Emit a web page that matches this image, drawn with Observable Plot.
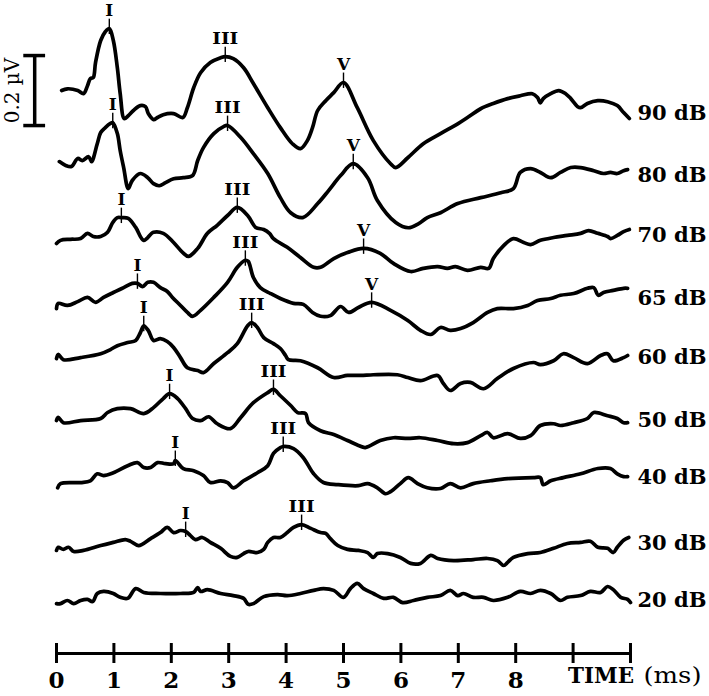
<!DOCTYPE html>
<html>
<head>
<meta charset="utf-8">
<script src="https://cdn.jsdelivr.net/npm/d3@7"></script>
<script src="https://cdn.jsdelivr.net/npm/@observablehq/plot@0.6"></script>
<style>
  html, body { margin: 0; padding: 0; background: #fff; }
  #chart { width: 709px; height: 696px; }
</style>
</head>
<body>
<div id="chart"></div>
<script>
// Stimulus levels (top to bottom) and vertical placement of each trace (µV)
const levels = ["90 dB", "80 dB", "70 dB", "65 dB", "60 dB", "50 dB", "40 dB", "30 dB", "20 dB"];
const offsets = [1.391, 1.214, 1.043, 0.863, 0.694, 0.514, 0.351, 0.163, 0];

// Waveforms: [time (ms), amplitude (µV)]
const trace90 = [[0.09,0.066],[0.19,0.071],[0.37,0.066],[0.47,0.057],[0.54,0.080],[0.59,0.100],[0.64,0.103],[0.68,0.146],[0.77,0.209],[0.85,0.234],[0.92,0.243],[0.99,0.209],[1.06,0.131],[1.11,0.057],[1.18,-0.014],[1.25,-0.006],[1.34,0.009],[1.46,0.023],[1.55,0.020],[1.60,0],[1.69,-0.017],[1.76,-0.011],[1.86,-0.003],[2.04,0],[2.20,-0.011],[2.28,0.017],[2.39,0.074],[2.51,0.117],[2.68,0.146],[2.86,0.160],[2.94,0.163],[3.08,0.157],[3.26,0.131],[3.43,0.086],[3.68,0.017],[3.90,-0.040],[4.11,-0.086],[4.25,-0.100],[4.37,-0.077],[4.46,-0.040],[4.55,0.009],[4.69,0.037],[4.83,0.060],[5.00,0.089],[5.24,0.017],[5.52,-0.077],[5.82,-0.143],[5.91,-0.154],[6.12,-0.126],[6.39,-0.086],[6.69,-0.057],[6.99,-0.029],[7.16,-0.011],[7.39,0.014],[7.61,0.029],[7.86,0.043],[8.08,0.051],[8.29,0.057],[8.38,0.046],[8.43,0.031],[8.48,0.043],[8.61,0.057],[8.75,0.066],[8.87,0.057],[8.96,0.043],[9.08,0.020],[9.13,0.017],[9.25,0.029],[9.43,0.037],[9.60,0.034],[9.77,0.023],[9.88,0.003],[9.98,-0.014]];
const trace80 = [[0.05,0.040],[0.16,0.029],[0.26,0.026],[0.37,0.049],[0.45,0.043],[0.56,0.054],[0.61,0.040],[0.71,0.091],[0.77,0.123],[0.85,0.137],[0.94,0.149],[0.98,0.151],[1.06,0.120],[1.11,0.071],[1.17,0.023],[1.25,-0.037],[1.32,-0.014],[1.46,0.006],[1.59,-0.006],[1.69,-0.023],[1.79,-0.029],[1.90,-0.020],[2.04,-0.009],[2.21,-0.006],[2.37,0],[2.46,0.043],[2.56,0.080],[2.74,0.120],[2.91,0.140],[2.98,0.143],[3.21,0.109],[3.43,0.063],[3.68,0.006],[3.90,-0.063],[4.08,-0.106],[4.29,-0.120],[4.55,-0.080],[4.74,-0.043],[4.95,0],[5.17,0.034],[5.42,-0.006],[5.59,-0.071],[5.91,-0.134],[6.13,-0.149],[6.31,-0.137],[6.46,-0.120],[6.69,-0.106],[6.99,-0.080],[7.39,-0.063],[7.74,-0.049],[7.96,-0.037],[8.08,0.009],[8.26,0.020],[8.43,0.009],[8.61,-0.006],[8.78,0.009],[8.96,0.023],[9.13,0.023],[9.36,0.014],[9.53,0.006],[9.65,0.009],[9.77,0.006],[9.88,0.014],[9.95,0.017]];
const trace70 = [[0,-0.023],[0.07,-0.014],[0.24,-0.011],[0.42,-0.009],[0.54,0.006],[0.64,-0.003],[0.77,-0.003],[0.89,0.009],[0.98,0.037],[1.06,0.051],[1.13,0.051],[1.25,0.049],[1.38,0.023],[1.52,-0.014],[1.69,0.009],[1.86,0.006],[2.04,-0.020],[2.20,-0.049],[2.30,-0.060],[2.46,-0.037],[2.63,0.006],[2.80,0.029],[2.98,0.057],[3.15,0.080],[3.33,0.057],[3.47,0.023],[3.61,0.017],[3.71,0.006],[3.78,-0.009],[4.02,-0.034],[4.25,-0.063],[4.48,-0.091],[4.60,-0.091],[4.83,-0.066],[5.07,-0.049],[5.35,-0.037],[5.64,-0.051],[5.87,-0.080],[6.17,-0.103],[6.39,-0.094],[6.64,-0.089],[6.81,-0.094],[6.95,-0.089],[7.16,-0.100],[7.39,-0.091],[7.53,-0.094],[7.61,-0.066],[7.79,-0.029],[7.96,-0.009],[8.14,-0.020],[8.26,-0.026],[8.43,-0.014],[8.66,-0.006],[8.90,0],[9.13,0.006],[9.27,0.014],[9.43,0.006],[9.60,-0.003],[9.65,-0.009],[9.77,0],[9.88,0.011],[9.98,0.017]];
const trace65 = [[0,-0.029],[0.03,-0.014],[0.19,-0.020],[0.37,-0.009],[0.54,0.003],[0.68,-0.011],[0.82,0.003],[0.99,0.017],[1.17,0.031],[1.32,0.043],[1.41,0.043],[1.50,0.034],[1.59,0.046],[1.69,0.046],[1.81,0.031],[1.93,0.020],[2.02,0.003],[2.16,-0.020],[2.28,-0.040],[2.37,-0.051],[2.51,-0.034],[2.74,0.003],[2.98,0.046],[3.15,0.089],[3.29,0.109],[3.34,0.106],[3.43,0.060],[3.55,0.031],[3.73,0.014],[3.90,0],[4.13,-0.014],[4.30,-0.017],[4.46,-0.040],[4.60,-0.051],[4.77,-0.049],[4.95,-0.023],[5.09,-0.040],[5.26,-0.026],[5.49,-0.011],[5.82,-0.034],[6.12,-0.063],[6.34,-0.091],[6.52,-0.103],[6.69,-0.083],[6.86,-0.091],[7.04,-0.086],[7.26,-0.069],[7.51,-0.040],[7.68,-0.029],[7.96,-0.029],[8.21,-0.020],[8.38,-0.006],[8.61,0],[8.78,0.009],[9.01,0.014],[9.25,0.029],[9.36,0.031],[9.44,0.009],[9.53,0.017],[9.70,0.023],[9.88,0.029],[9.95,0.029]];
const trace60 = [[0,-0.003],[0.03,0.009],[0.12,-0.006],[0.42,0],[0.77,0.011],[0.94,0.023],[1.06,0.034],[1.24,0.043],[1.38,0.049],[1.46,0.071],[1.52,0.091],[1.60,0.077],[1.69,0.049],[1.81,0.054],[1.93,0.046],[2.04,0.029],[2.16,0],[2.28,-0.029],[2.46,-0.037],[2.56,-0.043],[2.74,-0.017],[2.98,0.014],[3.15,0.040],[3.33,0.091],[3.40,0.100],[3.50,0.086],[3.61,0.057],[3.78,0.040],[3.90,0.026],[3.99,0.006],[4.04,-0.006],[4.25,-0.009],[4.55,-0.029],[4.83,-0.057],[5.07,-0.051],[5.30,-0.051],[5.52,-0.049],[5.94,-0.049],[6.12,-0.057],[6.34,-0.066],[6.64,-0.051],[6.74,-0.074],[6.86,-0.094],[7.04,-0.074],[7.21,-0.071],[7.44,-0.089],[7.68,-0.060],[7.96,-0.031],[8.31,-0.014],[8.43,-0.020],[8.66,-0.009],[8.83,0.011],[9.01,0],[9.25,-0.017],[9.48,0.006],[9.60,0.011],[9.70,-0.009],[9.88,0],[9.95,0.006]];
const trace50 = [[0,0],[0.03,0.009],[0.12,-0.006],[0.42,0],[0.77,0.006],[0.89,0.023],[1.06,0.034],[1.29,0.034],[1.52,0.020],[1.69,0.037],[1.86,0.063],[1.97,0.077],[2.11,0.063],[2.25,0.034],[2.37,0.006],[2.51,0],[2.65,0.011],[2.80,-0.009],[3.03,-0.023],[3.21,0.009],[3.43,0.051],[3.68,0.080],[3.78,0.089],[3.90,0.071],[4.08,0.043],[4.20,0.023],[4.34,0.020],[4.39,-0.006],[4.60,-0.029],[4.83,-0.040],[5.07,-0.057],[5.26,-0.071],[5.38,-0.077],[5.64,-0.057],[5.87,-0.049],[6.12,-0.051],[6.34,-0.049],[6.64,-0.057],[6.92,-0.066],[7.16,-0.063],[7.39,-0.043],[7.51,-0.034],[7.61,-0.049],[7.86,-0.037],[8.08,-0.051],[8.26,-0.043],[8.43,-0.014],[8.66,-0.009],[8.78,-0.014],[9.01,-0.006],[9.25,0.006],[9.36,0.023],[9.60,0.014],[9.77,0.006],[9.88,-0.006],[9.95,-0.006]];
const trace40 = [[0.02,-0.029],[0.07,-0.017],[0.42,-0.014],[0.59,-0.009],[0.71,0.011],[0.82,0.006],[0.99,0.014],[1.24,0.034],[1.41,0.043],[1.52,0.029],[1.64,0.029],[1.76,0.043],[1.90,0.040],[2.04,0.040],[2.07,0.049],[2.21,0.026],[2.39,0.020],[2.56,0.006],[2.68,-0.014],[2.86,-0.009],[2.98,-0.014],[3.08,-0.029],[3.26,-0.009],[3.50,0.014],[3.68,0.034],[3.78,0.069],[3.90,0.086],[3.95,0.089],[4.13,0.083],[4.30,0.057],[4.48,0.011],[4.65,-0.014],[4.90,-0.020],[5.26,-0.023],[5.42,-0.017],[5.59,-0.029],[5.73,-0.046],[5.82,-0.040],[5.99,-0.017],[6.13,0],[6.29,-0.017],[6.46,-0.029],[6.69,-0.031],[6.86,-0.017],[7.04,-0.029],[7.26,-0.017],[7.56,-0.009],[7.86,-0.003],[8.31,0],[8.43,0],[8.48,-0.020],[8.61,-0.009],[8.83,0],[9.13,0.011],[9.43,0.026],[9.65,0.026],[9.77,0.011],[9.88,0.003],[9.95,0.003]];
const trace30 = [[0,-0.020],[0.03,-0.011],[0.12,-0.017],[0.21,-0.011],[0.30,-0.023],[0.47,-0.020],[0.77,-0.006],[0.99,0.003],[1.20,0.011],[1.29,0.006],[1.43,-0.006],[1.64,0.014],[1.81,0.031],[1.93,0.046],[2.04,0.031],[2.16,0.037],[2.25,0.034],[2.33,0.023],[2.42,0.011],[2.54,0.017],[2.68,0.003],[2.86,-0.014],[3.03,-0.037],[3.15,-0.040],[3.26,-0.029],[3.34,-0.023],[3.50,-0.026],[3.61,-0.017],[3.68,0.003],[3.78,0.017],[3.90,0.017],[4.02,0.031],[4.13,0.046],[4.27,0.054],[4.43,0.043],[4.60,0.031],[4.69,0.029],[4.77,0.014],[4.90,-0.006],[5.07,-0.017],[5.26,-0.020],[5.42,-0.026],[5.52,-0.040],[5.59,-0.029],[5.77,-0.029],[5.99,-0.040],[6.17,-0.057],[6.34,-0.057],[6.52,-0.034],[6.64,-0.043],[6.92,-0.049],[7.26,-0.046],[7.51,-0.043],[7.68,-0.049],[7.79,-0.063],[7.86,-0.054],[7.96,-0.040],[8.21,-0.029],[8.43,-0.026],[8.66,-0.014],[8.90,0],[9.13,0.003],[9.30,0.006],[9.43,-0.011],[9.60,-0.014],[9.70,-0.026],[9.77,-0.011],[9.88,0.009],[9.97,0.017]];
const trace20 = [[0,-0.009],[0.07,-0.009],[0.19,0],[0.30,-0.009],[0.42,0],[0.54,0.003],[0.63,-0.003],[0.71,0.020],[0.82,0.026],[0.99,0.020],[1.11,0.009],[1.24,0.006],[1.38,0.034],[1.52,0.023],[1.81,0.020],[2.16,0.020],[2.39,0.023],[2.46,0.037],[2.51,0.026],[2.63,0.031],[2.86,0.020],[3.08,0.014],[3.26,0.006],[3.34,-0.011],[3.43,-0.009],[3.61,0.011],[3.85,0.017],[4.02,0.014],[4.25,0.020],[4.48,0.029],[4.65,0.034],[4.83,0.029],[5.00,0.009],[5.12,0.034],[5.24,0.049],[5.35,0.034],[5.52,0.020],[5.70,0.006],[5.87,0.009],[6.03,-0.006],[6.22,0],[6.46,0.009],[6.69,0.014],[6.86,0.029],[6.99,0.014],[7.09,0.020],[7.26,0.009],[7.44,0.009],[7.61,0],[7.86,0.009],[8.08,0.026],[8.26,0.020],[8.43,0.029],[8.61,0.020],[8.78,0],[8.90,0.009],[9.13,0.014],[9.30,0.026],[9.48,0.023],[9.60,0.040],[9.70,0.031],[9.83,0.009],[9.95,0.003],[10.0,-0.006]];
const traces = [trace90, trace80, trace70, trace65, trace60, trace50, trace40, trace30, trace20];

// Wave peak markers
const markerLevel = ["90 dB","90 dB","90 dB","80 dB","80 dB","80 dB","70 dB","70 dB","70 dB","65 dB","65 dB","65 dB","60 dB","60 dB","50 dB","50 dB","40 dB","40 dB","30 dB","30 dB"];
const markerWave  = ["I","III","V","I","III","V","I","III","V","I","III","V","I","III","I","III","I","III","I","III"];
const markerTime  = [0.92,2.94,5.00, 0.98,2.98,5.17, 1.13,3.15,5.35, 1.41,3.29,5.49, 1.52,3.40, 1.97,3.78, 2.07,3.95, 2.25,4.27];
const markerAmp   = [0.243,0.163,0.089, 0.151,0.143,0.034, 0.051,0.080,-0.037, 0.043,0.109,-0.011, 0.091,0.100, 0.077,0.089, 0.049,0.089, 0.034,0.054];

// Time axis ticks (ms)
const xTicks = [0,1,2,3,4,5,6,7,8,9,10];
const xTickLabels = ["0","1","2","3","4","5","6","7","8","",""];
const axisTitle = "TIME";
const axisUnit = "(ms)";

// Calibration bar: 0.2 µV
const calValue = 0.2;
const calLabel = "0.2 µV";
const calTime = -0.38;
const calTop = 1.557;

const yDomain = [-0.1229, 1.7143];
const serif = "'DejaVu Serif', 'Liberation Serif', serif";

const offsetOf = new Map(levels.map((l, i) => [l, offsets[i]]));
const rows = traces.flatMap((tr, i) => tr.map(([t, a]) => ({level: levels[i], t, v: offsets[i] + a})));
const markers = markerWave.map((w, i) => ({level: markerLevel[i], wave: w, t: markerTime[i], v: offsetOf.get(markerLevel[i]) + markerAmp[i]}));
const levelRows = levels.map((l, i) => ({level: l, v: offsets[i]}));
const cal = [{t: calTime, top: calTop, bottom: calTop - calValue}];

const plot = Plot.plot({
  width: 709,
  height: 696,
  marginLeft: 56,
  marginRight: 79,
  marginTop: 0,
  marginBottom: 53,
  style: {fontFamily: serif, background: "#fff", color: "#000"},
  x: {domain: [0, 10], axis: null, label: null},
  y: {domain: yDomain, axis: null, label: null},
  marks: [
    Plot.line(rows, {x: "t", y: "v", z: "level", stroke: "#000", strokeWidth: 3.7, curve: "catmull-rom", strokeLinejoin: "round", strokeLinecap: "round"}),
    Plot.ruleX(markers, {x: "t", y1: d => d.v - 0.017, y2: d => d.v + 0.027, stroke: "#000", strokeWidth: 1.4}),
    Plot.text(markers, {x: "t", y: "v", text: "wave", dy: -18, fontSize: 17, fontWeight: "bold", fontFamily: serif, fill: "#000"}),
    Plot.text(levelRows, {x: () => 10, y: "v", text: "level", dx: 7, textAnchor: "start", fontSize: 21, fontWeight: "bold", fontFamily: serif, fill: "#000"}),
    // calibration bar
    Plot.ruleX(cal, {x: "t", y1: "bottom", y2: "top", stroke: "#000", strokeWidth: 3.5}),
    Plot.ruleY(cal, {y: "top", x1: d => d.t - 0.19, x2: d => d.t + 0.19, stroke: "#000", strokeWidth: 3.5}),
    Plot.ruleY(cal, {y: "bottom", x1: d => d.t - 0.19, x2: d => d.t + 0.19, stroke: "#000", strokeWidth: 3.5}),
    Plot.text(cal, {x: "t", y: d => (d.top + d.bottom) / 2, text: () => calLabel, dx: -22, rotate: -90, fontSize: 20, fontFamily: serif, fill: "#000"}),
    // time axis
    Plot.ruleY([yDomain[0]], {x1: () => 0, x2: () => 10, dy: 10, stroke: "#000", strokeWidth: 3}),
    Plot.axisX({ticks: xTicks, label: null, tickSize: 20, strokeWidth: 3, tickPadding: 8, tickFormat: (d) => xTickLabels[xTicks.indexOf(d)], fontSize: 23, fontWeight: "bold", fontFamily: serif, fill: "#000", stroke: "#000"}),
    Plot.text([axisTitle], {x: () => 9, frameAnchor: "bottom", dy: 39, text: d => d, textAnchor: "start", dx: -5, fontSize: 23, fontWeight: "bold", fontFamily: serif, fill: "#000"}),
    Plot.text([axisUnit], {x: () => 10, frameAnchor: "bottom", dy: 39, text: d => d, textAnchor: "start", dx: 13, fontSize: 22, fontFamily: serif, fill: "#000"})
  ]
});
// fit the wide serif labels into the reference's widths
const fitWidths = new Map([[axisTitle, 66], [axisUnit, 58], ["III", 26]]);
d3.select(plot).selectAll("text").each(function() {
  const w = fitWidths.get(this.textContent);
  if (w) d3.select(this).attr("textLength", w).attr("lengthAdjust", "spacingAndGlyphs");
});
document.getElementById("chart").appendChild(plot);
</script>
</body>
</html>
